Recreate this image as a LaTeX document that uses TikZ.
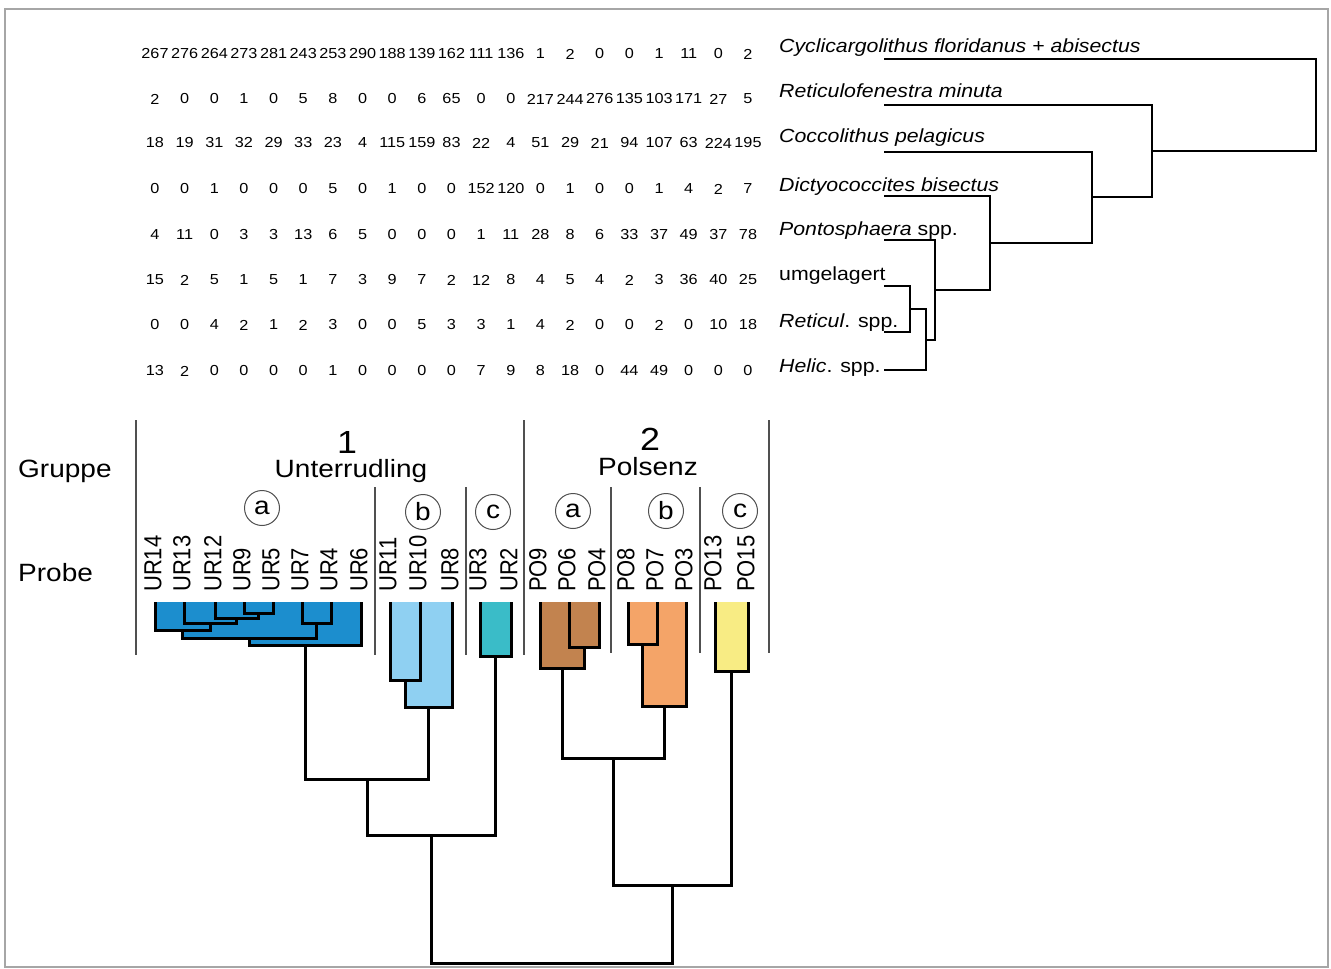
\documentclass[tikz,border=0pt]{standalone}
\usepackage{fontspec}
\usepackage{graphicx}
\setmainfont{Liberation Sans}
\newcommand{\hs}[1]{\scalebox{1.12}[1]{#1}}
\newcommand{\vsx}[1]{\scalebox{1}[1.12]{#1}}
\definecolor{cOa}{RGB}{28,142,206}
\definecolor{cOb}{RGB}{143,208,242}
\definecolor{cOc}{RGB}{58,188,200}
\definecolor{cTa}{RGB}{194,131,79}
\definecolor{cTb}{RGB}{244,164,104}
\definecolor{cTc}{RGB}{248,236,132}
\definecolor{sepgray}{RGB}{80,80,80}
\tikzset{
  num/.style={inner sep=0pt, font=\fontsize{14.5}{14.5}\selectfont},
  spec/.style={inner sep=0pt, anchor=base west, font=\fontsize{19}{19}\selectfont},
  big/.style={inner sep=0pt, font=\fontsize{25}{25}\selectfont},
  smp/.style={inner sep=0pt, rotate=90, anchor=west, font=\fontsize{22}{22}\selectfont},
  circ/.style={circle, draw=sepgray, line width=1pt, minimum size=35pt, inner sep=0pt, font=\fontsize{25}{25}\selectfont},
  tree/.style={line width=3pt, black, line join=miter},
  rtree/.style={line width=2.2pt, black, line join=miter},
  sepline/.style={line width=1.4pt, sepgray}
}
\begin{document}
\begin{tikzpicture}[x=1pt,y=-1pt]
\useasboundingbox (0,0) rectangle (1331,969);
\fill[white] (0,0) rectangle (1331,969);
\draw[line width=1.5pt, gray!70] (5,9) rectangle (1328,967);

% ---------- number table ----------
\foreach \r/\yy/\vals in {
 1/54/{267,276,264,273,281,243,253,290,188,139,162,111,136,1,2,0,0,1,11,0,2},
 2/99/{2,0,0,1,0,5,8,0,0,6,65,0,0,217,244,276,135,103,171,27,5},
 3/143/{18,19,31,32,29,33,23,4,115,159,83,22,4,51,29,21,94,107,63,224,195},
 4/189/{0,0,1,0,0,0,5,0,1,0,0,152,120,0,1,0,0,1,4,2,7},
 5/235/{4,11,0,3,3,13,6,5,0,0,0,1,11,28,8,6,33,37,49,37,78},
 6/280/{15,2,5,1,5,1,7,3,9,7,2,12,8,4,5,4,2,3,36,40,25},
 7/325/{0,0,4,2,1,2,3,0,0,5,3,3,1,4,2,0,0,2,0,10,18},
 8/371/{13,2,0,0,0,0,1,0,0,0,0,7,9,8,18,0,44,49,0,0,0}}{
  \foreach \v [count=\c] in \vals {
    \node[num] (n-\r-\c) at ({155+(\c-1)*29.65},\yy) {\hs{\v}};
  }
}

% ---------- species labels ----------
\node[spec] (sp1) at (779,52) {\hs{\itshape Cyclicargolithus floridanus + abisectus}};
\node[spec] (sp2) at (779,97) {\hs{\itshape Reticulofenestra minuta}};
\node[spec] (sp3) at (779,142) {\hs{\itshape Coccolithus pelagicus}};
\node[spec] (sp4) at (779,191) {\hs{\itshape Dictyococcites bisectus}};
\node[spec] (sp5) at (779,235) {\hs{\textit{Pontosphaera} spp.}};
\node[spec] (sp6) at (779,280) {\hs{umgelagert}};
\node[spec] (sp7) at (779,327) {\hs{\textit{Reticul}. spp.}};
\node[spec] (sp8) at (779,372) {\hs{\textit{Helic}. spp.}};

% ---------- species dendrogram ----------
\coordinate (l1) at (884,59);
\coordinate (l2) at (884,105);
\coordinate (l3) at (884,152);
\coordinate (l4) at (884,196);
\coordinate (l5) at (884,240);
\coordinate (l6) at (884,286);
\coordinate (l7) at (884,332);
\coordinate (l8) at (884,370);
\draw[rtree] (l6) -- (910,286) -- (910,332) -- (l7);
\draw[rtree] (910,309) -- (926,309) -- (926,370) -- (l8);
\draw[rtree] (l5) -- (935,240) -- (935,340) -- (926,340);
\draw[rtree] (l4) -- (990,196) -- (990,290) -- (935,290);
\draw[rtree] (l3) -- (1092,152) -- (1092,243) -- (990,243);
\draw[rtree] (l2) -- (1152,105) -- (1152,197) -- (1092,197);
\draw[rtree] (l1) -- (1316,59) -- (1316,151) -- (1152,151);

% ---------- group separators ----------
\draw[sepline] (136,420) -- (136,655);
\draw[sepline] (375,487) -- (375,655);
\draw[sepline] (466,487) -- (466,655);
\draw[sepline] (524,420) -- (524,655);
\draw[sepline] (611,487) -- (611,653);
\draw[sepline] (700,487) -- (700,653);
\draw[sepline] (769,420) -- (769,653);

% ---------- headings ----------
\node[big, anchor=base west] (gruppe) at (18,477) {\hs{Gruppe}};
\node[big, anchor=base west] (probe) at (18,581) {\hs{Probe}};
\node[inner sep=0pt, anchor=base, font=\fontsize{32}{32}\selectfont] (g1) at (347,453) {\hs{1}};
\node[big, anchor=base] (unt) at (351,477) {\hs{Unterrudling}};
\node[inner sep=0pt, anchor=base, font=\fontsize{32}{32}\selectfont] (g2) at (650,450) {\hs{2}};
\node[big, anchor=base] (pol) at (648,475) {\hs{Polsenz}};
\node[circ] (c1a) at (262,508) {\hs{a}};
\node[circ] (c1b) at (423,512) {\hs{b}};
\node[circ] (c1c) at (493,512) {\hs{c}};
\node[circ] (c2a) at (573,511) {\hs{a}};
\node[circ] (c2b) at (666,511) {\hs{b}};
\node[circ] (c2c) at (740,511) {\hs{c}};

% ---------- sample labels and leaf points ----------
\foreach \nm/\xx in {UR14/155,UR13/184,UR12/215,UR9/244,UR5/273,UR7/302,UR4/331,UR6/361,UR11/390,UR10/420,UR8/452,UR3/480,UR2/511,PO9/540,PO6/569,PO4/599,PO8/628,PO7/657,PO3/686,PO13/715,PO15/748}{
  \node[smp] (\nm) at (\xx-2,592) {\vsx{\nm}};
  \coordinate (t-\nm) at (\xx,602);
}

% ---------- coloured cluster fills ----------
\fill[cOa] (155,602) -- (155,630) -- (182.7,630) -- (182.7,638) -- (249.6,638) -- (249.6,645) -- (361,645) -- (361,602) -- cycle;
\fill[cOb] (390,602) -- (390,680) -- (405,680) -- (405,707) -- (452,707) -- (452,602) -- cycle;
\fill[cOc] (480,602) rectangle (511,656);
\fill[cTa] (540,602) -- (540,668) -- (584,668) -- (584,647) -- (599,647) -- (599,602) -- cycle;
\fill[cTb] (628,602) -- (628,644) -- (642.5,644) -- (642.5,706) -- (686,706) -- (686,602) -- cycle;
\fill[cTc] (715,602) rectangle (748,671);

% ---------- sample dendrogram ----------
\draw[tree] (t-UR9) -- (244,613) -- (273,613) -- (t-UR5);
\draw[tree] (t-UR12) -- (215,618) -- (258.5,618) -- (258.5,613);
\draw[tree] (t-UR13) -- (184,623) -- (236.75,623) -- (236.75,618);
\draw[tree] (t-UR14) -- (155,630) -- (210.4,630) -- (210.4,623);
\draw[tree] (t-UR7) -- (302,623) -- (331,623) -- (t-UR4);
\draw[tree] (182.7,630) -- (182.7,638) -- (316.5,638) -- (316.5,623);
\draw[tree] (249.6,638) -- (249.6,645) -- (361,645) -- (t-UR6);
\draw[tree] (t-UR11) -- (390,680) -- (420,680) -- (t-UR10);
\draw[tree] (405,680) -- (405,707) -- (452,707) -- (t-UR8);
\draw[tree] (t-UR3) -- (480,656) -- (511,656) -- (t-UR2);
\draw[tree] (305.3,645) -- (305.3,779) -- (428.5,779) -- (428.5,707);
\draw[tree] (367,779) -- (367,835) -- (495.5,835) -- (495.5,656);
\draw[tree] (t-PO6) -- (569,647) -- (599,647) -- (t-PO4);
\draw[tree] (t-PO9) -- (540,668) -- (584,668) -- (584,647);
\draw[tree] (t-PO8) -- (628,644) -- (657,644) -- (t-PO7);
\draw[tree] (642.5,644) -- (642.5,706) -- (686,706) -- (t-PO3);
\draw[tree] (t-PO13) -- (715,671) -- (748,671) -- (t-PO15);
\draw[tree] (562,668) -- (562,758) -- (664,758) -- (664,706);
\draw[tree] (613,758) -- (613,885) -- (731.5,885) -- (731.5,671);
\draw[tree] (431,835) -- (431,963) -- (672,963) -- (672,885);
\end{tikzpicture}
\end{document}
